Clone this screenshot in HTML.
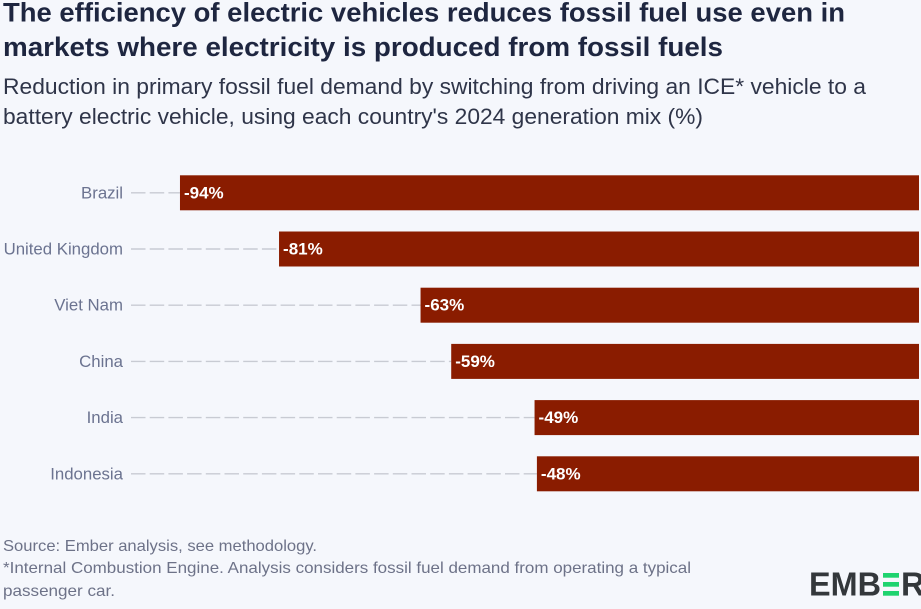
<!DOCTYPE html>
<html lang="en">
<head>
<meta charset="utf-8">
<title>EV efficiency and fossil fuel demand</title>
<style>
  html, body { margin: 0; padding: 0; background: #f5f7fc; }
  body { width: 921px; height: 609px; overflow: hidden; }
  svg { display: block; font-family: "Liberation Sans", sans-serif; }
</style>
</head>
<body>
<svg id="chart" width="921" height="609" viewBox="0 0 921 609" xmlns="http://www.w3.org/2000/svg">
  <rect x="0" y="0" width="921" height="609" fill="#f5f7fc"/>
  <g fill="#1e2640" font-size="27" font-weight="700">
    <text x="3" y="21.5" textLength="842" lengthAdjust="spacingAndGlyphs">The efficiency of electric vehicles reduces fossil fuel use even in</text>
    <text x="3" y="56" textLength="720" lengthAdjust="spacingAndGlyphs">markets where electricity is produced from fossil fuels</text>
  </g>
  <g fill="#2f3549" font-size="22.5">
    <text x="3" y="94" textLength="863" lengthAdjust="spacingAndGlyphs">Reduction in primary fossil fuel demand by switching from driving an ICE* vehicle to a</text>
    <text x="3" y="124" textLength="700" lengthAdjust="spacingAndGlyphs">battery electric vehicle, using each country's 2024 generation mix (%)</text>
  </g>
  <g id="plot"></g>
  <g fill="#6d7288" font-size="16">
    <text x="3" y="551" textLength="314" lengthAdjust="spacingAndGlyphs">Source: Ember analysis, see methodology.</text>
    <text x="3" y="573" textLength="688" lengthAdjust="spacingAndGlyphs">*Internal Combustion Engine. Analysis considers fossil fuel demand from operating a typical</text>
    <text x="3" y="596" textLength="112" lengthAdjust="spacingAndGlyphs">passenger car.</text>
  </g>
  <g>
    <text x="809" y="595.7" font-size="33" font-weight="700" fill="#33373b" textLength="72" lengthAdjust="spacingAndGlyphs">EMB</text>
    <rect x="883" y="573" width="16" height="4.7" fill="#1ed36f"/>
    <rect x="883" y="582" width="16" height="4.7" fill="#1ed36f"/>
    <rect x="883" y="591" width="16" height="4.7" fill="#1ed36f"/>
    <text x="901" y="595.7" font-size="33" font-weight="700" fill="#33373b">R</text>
  </g>
</svg>
<script>
const categories = ["Brazil", "United Kingdom", "Viet Nam", "China", "India", "Indonesia"];
const seriesValues = [-94, -81.4, -63.4, -59.5, -48.9, -48.6];
const valueLabels = ["-94%", "-81%", "-63%", "-59%", "-49%", "-48%"];

const svgNS = "http://www.w3.org/2000/svg";
const plot = document.getElementById("plot");

function xScale(value) {
  return 919 + value * 7.862;
}
function yBand(index) {
  return 175.3 + index * 56.2;
}
const bandHeight = 35;

function makeEl(tag, attrs) {
  const el = document.createElementNS(svgNS, tag);
  for (const key in attrs) el.setAttribute(key, attrs[key]);
  return el;
}

categories.forEach(function (name, i) {
  const value = seriesValues[i];
  const top = yBand(i);
  const mid = top + bandHeight / 2;
  const left = xScale(value);
  const right = xScale(0);

  const label = makeEl("text", { x: 123, y: mid + 5.5, "text-anchor": "end", "font-size": 16.8, fill: "#6b7390" });
  
  
  label.textContent = name;
  plot.appendChild(label);

  const leader = makeEl("line", { x1: 131, x2: left, y1: mid, y2: mid, stroke: "#c8cbd3", "stroke-width": 1.4, "stroke-dasharray": "14.5 4.2" });
  
  
  plot.appendChild(leader);

  const bar = makeEl("rect", { x: left, y: top, width: right - left, height: bandHeight, fill: "#8a1c00" });
  
  
  plot.appendChild(bar);

  const valueText = makeEl("text", { x: left + 4, y: mid + 5.5, "font-size": 17, "font-weight": 700, fill: "#ffffff" });
  
  
  valueText.textContent = valueLabels[i];
  plot.appendChild(valueText);
});
</script>
</body>
</html>
